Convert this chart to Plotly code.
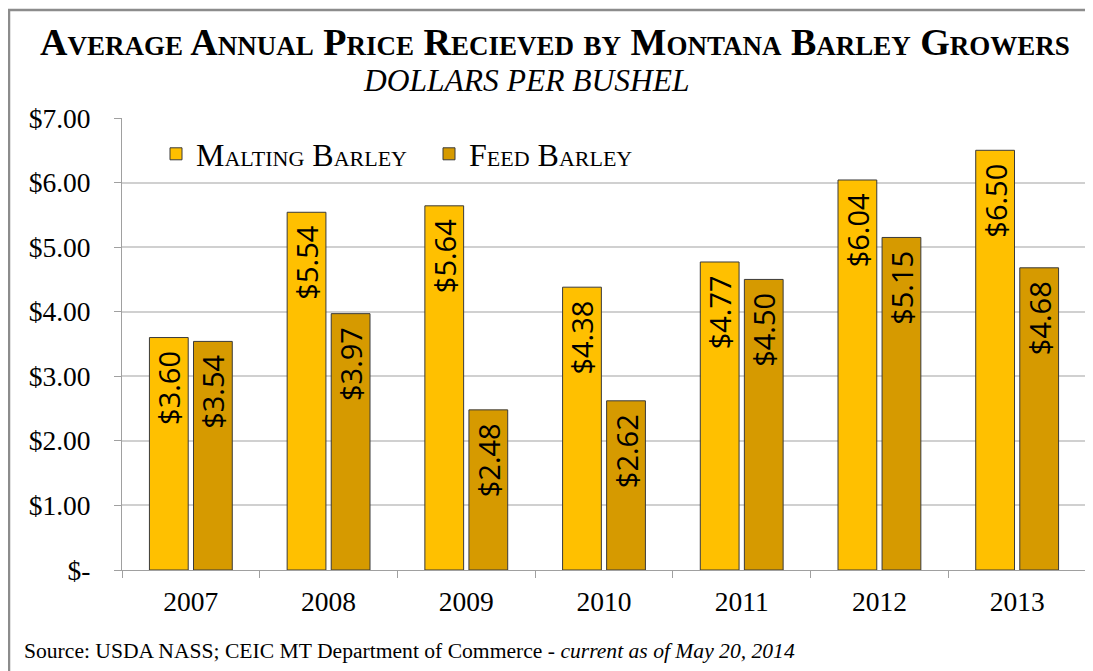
import plotly.graph_objects as go

years = ["2007", "2008", "2009", "2010", "2011", "2012", "2013"]
malting = [3.60, 5.54, 5.64, 4.38, 4.77, 6.04, 6.50]
feed = [3.54, 3.97, 2.48, 2.62, 4.50, 5.15, 4.68]
ytick_vals = [0, 1, 2, 3, 4, 5, 6, 7]
ytick_text = ["$-", "$1.00", "$2.00", "$3.00", "$4.00", "$5.00", "$6.00", "$7.00"]

SERIF = "Liberation Serif"
SANS = "Open Sans"

# page offset (body margin) and plot-area in screenshot pixels
OX, OY = 8, 8
W, H = 1085, 663
PX0, PX1, PY0, PY1 = 122, 1086, 118, 570
L, R = PX0 - OX, W - (PX1 - OX)
T, B = PY0 - OY, H - (PY1 - OY)
pw = PX1 - PX0
ph = PY1 - PY0

def px_x(px):
    return (px - PX0) / pw

def px_y(py):
    return (PY1 - py) / ph

fig = go.Figure()
for name, vals, color in [("Malting Barley", malting, "#FFC000"),
                          ("Feed Barley", feed, "#D69A00")]:
    fig.add_trace(go.Bar(
        x=years, y=vals, name=name,
        marker=dict(color=color, line=dict(color="#3a3a3a", width=1)),
        texttemplate="%{y:$.2f}\u00a0\u200a",
        textposition="inside",
        insidetextanchor="end",
        textangle=-90,
        textfont=dict(family=SANS, size=29, color="black"),
        constraintext="none",
        cliponaxis=False,
    ))

fig.update_layout(
    width=W, height=H,
    margin=dict(l=L, r=R, t=T, b=B, autoexpand=False),
    paper_bgcolor="white", plot_bgcolor="white",
    barmode="group", bargap=0.36, bargroupgap=0.12,
    showlegend=True,
    legend=dict(
        orientation="h", x=px_x(156), y=px_y(154), xanchor="left", yanchor="middle",
        font=dict(family=SERIF, size=32, color="black", variant="small-caps"),
        bgcolor="rgba(0,0,0,0)", itemwidth=30, traceorder="normal",
        entrywidth=228, entrywidthmode="pixels",
    ),
    xaxis=dict(
        type="category", showgrid=False, showline=True, linecolor="#a0a0a0", linewidth=1,
        ticks="outside", tickson="boundaries", ticklen=7, tickcolor="#a0a0a0",
        tickfont=dict(family=SERIF, size=27.5, color="black"),
        ticklabelstandoff=7,
        range=[-0.5, 6.5],
    ),
    yaxis=dict(
        range=[0, 7], tickvals=ytick_vals, ticktext=ytick_text,
        showgrid=True, gridcolor="#d0d0d0", gridwidth=1.5,
        showline=True, linecolor="#a0a0a0", linewidth=1,
        ticks="outside", ticklen=7, tickcolor="#a0a0a0",
        tickfont=dict(family=SERIF, size=27.5, color="black"),
        ticklabelstandoff=18,
        zeroline=False,
    ),
)

fig.add_annotation(
    text="<b>Average Annual Price Recieved by Montana Barley Growers</b>",
    xref="paper", yref="paper", x=px_x(555), y=px_y(42),
    xanchor="center", yanchor="middle", showarrow=False,
    font=dict(family=SERIF, size=38, color="black", variant="small-caps"),
)
fig.add_annotation(
    text="<i>DOLLARS PER BUSHEL</i>",
    xref="paper", yref="paper", x=px_x(526), y=px_y(80),
    xanchor="center", yanchor="middle", showarrow=False,
    font=dict(family=SERIF, size=31.5, color="black"),
)
fig.add_annotation(
    text="Source: USDA NASS; CEIC MT Department of Commerce - <i>current as of May 20, 2014</i>",
    xref="paper", yref="paper", x=px_x(22), y=px_y(651),
    xanchor="left", yanchor="middle", showarrow=False,
    font=dict(family=SERIF, size=21.6, color="black"),
)
fig.add_shape(
    type="rect", xref="paper", yref="paper",
    x0=px_x(9), x1=px_x(1120), y0=px_y(10), y1=px_y(700),
    line=dict(color="#8c8c8c", width=2.5), fillcolor="rgba(0,0,0,0)", layer="above",
)

fig.write_html("out.html")
